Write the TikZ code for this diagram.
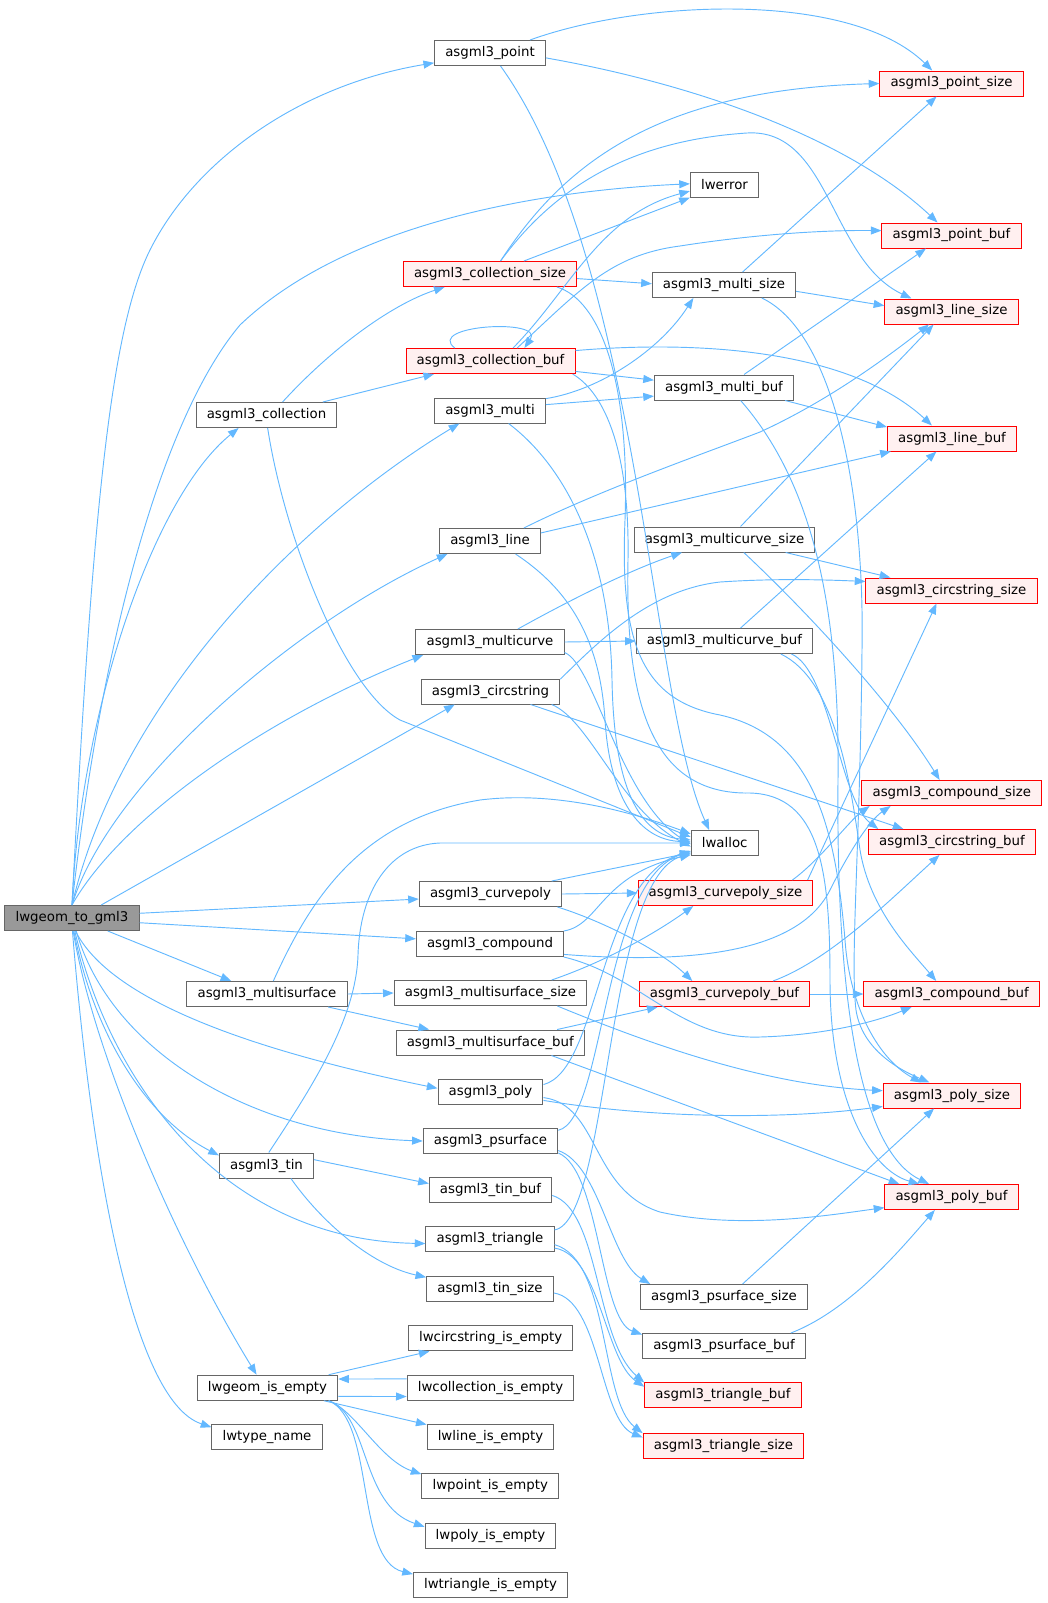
\documentclass[tikz,border=0pt]{standalone}
\usepackage{fontspec}
\setmainfont{DejaVu Sans}
\usetikzlibrary{arrows.meta,calc}

\definecolor{edgeblue}{HTML}{63B8FF}
\definecolor{boxgray}{HTML}{666666}
\definecolor{truncred}{HTML}{FF0000}
\definecolor{truncfill}{HTML}{FFF0F0}
\definecolor{rootfill}{HTML}{999999}

\begin{document}
\begin{tikzpicture}[x=0.75pt,y=-0.75pt,
  fn/.style={draw=boxgray, fill=white, line width=0.75pt, minimum height=18.75pt,
    inner xsep=8pt, inner ysep=0pt, font=\fontsize{10}{12}\selectfont},
  trunc/.style={fn, draw=truncred, fill=truncfill},
  rootfn/.style={fn, fill=rootfill},
  calls/.style={draw=edgeblue, line width=0.7pt, -{Triangle[length=8pt,width=6pt]}}]
\useasboundingbox (0,0) rectangle (1047,1603);

\node[rootfn] (root) at (72,918) {lwgeom\_to\_gml3};
\node[fn] (pt) at (490,53) {asgml3\_point};
\node[trunc] (ptsz) at (951.5,83.5) {asgml3\_point\_size};
\node[fn] (err) at (724.5,185) {lwerror};
\node[trunc] (ptbuf) at (951.5,235.5) {asgml3\_point\_buf};
\node[trunc] (colsz) at (490,274) {asgml3\_collection\_size};
\node[fn] (multisz) at (724,285) {asgml3\_multi\_size};
\node[trunc] (linesz) at (951.5,311.5) {asgml3\_line\_size};
\node[trunc] (colbuf) at (490.5,361) {asgml3\_collection\_buf};
\node[fn] (multibuf) at (724,387.5) {asgml3\_multi\_buf};
\node[fn] (col) at (266.5,415) {asgml3\_collection};
\node[fn] (multi) at (490,410.5) {asgml3\_multi};
\node[trunc] (linebuf) at (952,438.5) {asgml3\_line\_buf};
\node[fn] (line) at (490,541) {asgml3\_line};
\node[fn] (mcsz) at (724.5,539.5) {asgml3\_multicurve\_size};
\node[trunc] (cssz) at (951.5,590.5) {asgml3\_circstring\_size};
\node[fn] (mc) at (490,642) {asgml3\_multicurve};
\node[fn] (mcbuf) at (724.5,641) {asgml3\_multicurve\_buf};
\node[fn] (cs) at (490.5,691.5) {asgml3\_circstring};
\node[trunc] (cmpsz) at (951.8,793) {asgml3\_compound\_size};
\node[fn] (alloc) at (724.7,843) {lwalloc};
\node[trunc] (csbuf) at (952,842) {asgml3\_circstring\_buf};
\node[fn] (cp) at (490.5,894) {asgml3\_curvepoly};
\node[trunc] (cpsz) at (725.5,893) {asgml3\_curvepoly\_size};
\node[fn] (cmp) at (490,944) {asgml3\_compound};
\node[fn] (ms) at (267,994) {asgml3\_multisurface};
\node[fn] (mssz) at (490.5,993) {asgml3\_multisurface\_size};
\node[trunc] (cpbuf) at (724.5,994) {asgml3\_curvepoly\_buf};
\node[trunc] (cmpbuf) at (951.7,994) {asgml3\_compound\_buf};
\node[fn] (msbuf) at (490.3,1042.5) {asgml3\_multisurface\_buf};
\node[fn] (poly) at (490.5,1092) {asgml3\_poly};
\node[trunc] (polysz) at (952,1095.5) {asgml3\_poly\_size};
\node[fn] (psurf) at (490.5,1141) {asgml3\_psurface};
\node[fn] (tin) at (266.5,1165.5) {asgml3\_tin};
\node[fn] (tinbuf) at (490.5,1190) {asgml3\_tin\_buf};
\node[trunc] (polybuf) at (951.5,1197) {asgml3\_poly\_buf};
\node[fn] (tri) at (490,1239) {asgml3\_triangle};
\node[fn] (tinsz) at (490,1288.5) {asgml3\_tin\_size};
\node[fn] (pssz) at (724,1297) {asgml3\_psurface\_size};
\node[fn] (ecs) at (490.7,1338.3) {lwcircstring\_is\_empty};
\node[fn] (psbuf) at (724,1346) {asgml3\_psurface\_buf};
\node[fn] (empty) at (267.5,1387.7) {lwgeom\_is\_empty};
\node[fn] (ecol) at (490.5,1387.7) {lwcollection\_is\_empty};
\node[trunc] (tribuf) at (723,1395) {asgml3\_triangle\_buf};
\node[fn] (tname) at (267,1437) {lwtype\_name};
\node[fn] (eline) at (490.5,1437) {lwline\_is\_empty};
\node[trunc] (trisz) at (723.5,1446) {asgml3\_triangle\_size};
\node[fn] (epoint) at (490.3,1486.3) {lwpoint\_is\_empty};
\node[fn] (epoly) at (490.5,1536) {lwpoly\_is\_empty};
\node[fn] (etri) at (490.5,1585) {lwtriangle\_is\_empty};

% calls out of lwgeom_to_gml3
\draw[calls] (root.north) .. controls (92,520) and (110,330) .. (150,250) .. controls (195,160) and (300,85) .. (pt.190);
\draw[calls] (root.north) .. controls (100,650) and (160,420) .. (240,325) .. controls (350,220) and (550,190) .. (err.178);
\draw[calls] (root.north) .. controls (80,720) and (150,500) .. (col.205);
\draw[calls] (root.north) .. controls (120,700) and (300,520) .. (multi.203);
\draw[calls] (root.north) .. controls (110,780) and (300,620) .. (line.197);
\draw[calls] (root.north) .. controls (120,820) and (260,720) .. (mc.191);
\draw[calls] (root.24) -- (cs.200);
\draw[calls] (root.4) -- (cp.184);
\draw[calls] (root.-4) -- (cmp.176);
\draw[calls] (root.-20) -- (ms.160);
\draw[calls] (root.-75) .. controls (110,1000) and (250,1050) .. (poly.176);
\draw[calls] (root.-72) .. controls (110,1050) and (250,1135) .. (psurf.west);
\draw[calls] (root.-78) .. controls (110,1080) and (220,1240) .. (tri.184);
\draw[calls] (root.-82) .. controls (95,1040) and (150,1120) .. (tin.168);
\draw[calls] (root.-85) .. controls (95,1060) and (180,1250) .. (empty.130);
\draw[calls] (root.-88) .. controls (90,1150) and (130,1400) .. (tname.170);

% point, collection, multi
\draw[calls] (pt.18) .. controls (640,0) and (850,-10) .. (ptsz.146);
\draw[calls] (pt.-5) .. controls (700,85) and (850,140) .. (ptbuf.137);
\draw[calls] (pt.-51) .. controls (640,260) and (650,700) .. (alloc.140);
\draw[calls] (col.39) .. controls (330,350) and (390,305) .. (colsz.196);
\draw[calls] (col.13) -- (colbuf.193);
\draw[calls] (col.-85) .. controls (285,540) and (345,690) .. (400,720) -- (alloc.170);
\draw[calls] (colsz.51) .. controls (560,170) and (650,90) .. (ptsz.west);
\draw[calls] (colsz.51) .. controls (560,180) and (640,140) .. (747,133) .. controls (830,128) and (830,260) .. (linesz.162);
\draw[calls] (colsz.21) -- (err.200);
\draw[calls] (colsz.-3) -- (multisz.179);
\draw[calls] (colsz.-11) .. controls (600,300) and (630,380) .. (625,520) .. controls (620,640) and (640,700) .. (720,715) .. controls (810,735) and (835,820) .. (845,940) .. controls (850,1010) and (880,1060) .. (polysz.157);
\draw[calls] (multisz.35) -- (ptsz.221);
\draw[calls] (multisz.-5) -- (linesz.175);
\draw[calls] (multisz.-19) .. controls (830,330) and (865,480) .. (862,650) .. controls (860,850) and (850,960) .. (856,1010) .. controls (862,1050) and (900,1070) .. (polysz.150);
\draw[calls] (colbuf.160) .. controls (425,325) and (545,318) .. (colbuf.21);
\draw[calls] (colbuf.30) .. controls (570,290) and (600,215) .. (err.190);
\draw[calls] (colbuf.26) .. controls (580,290) and (610,255) .. (680,246) .. controls (750,235) and (820,230) .. (ptbuf.176);
\draw[calls] (colbuf.7) .. controls (700,340) and (850,350) .. (linebuf.147);
\draw[calls] (colbuf.-7) -- (multibuf.174);
\draw[calls] (colbuf.-9) .. controls (600,390) and (630,440) .. (628,560) .. controls (625,700) and (650,795) .. (750,793) .. controls (820,795) and (830,870) .. (830,980) .. controls (830,1100) and (870,1170) .. (polybuf.158);
\draw[calls] (multibuf.33) -- (ptbuf.207);
\draw[calls] (multibuf.-12) -- (linebuf.170);
\draw[calls] (multibuf.-38) .. controls (810,480) and (840,600) .. (838,780) .. controls (836,1000) and (860,1150) .. (polybuf.150);
\draw[calls] (multi.12) .. controls (600,390) and (660,350) .. (multisz.203);
\draw[calls] (multi.6) -- (multibuf.187);
\draw[calls] (multi.-35) .. controls (570,470) and (610,560) .. (612,680) .. controls (614,790) and (640,835) .. (alloc.175);

% line, curves
\draw[calls] (line.21) .. controls (600,490) and (700,455) .. (760,432) .. controls (830,400) and (890,355) .. (linesz.210);
\draw[calls] (line.9) -- (linebuf.192);
\draw[calls] (line.-27) .. controls (570,590) and (600,640) .. (605,720) .. controls (610,800) and (640,840) .. (alloc.178);
\draw[calls] (mcsz.39) -- (linesz.216);
\draw[calls] (mcsz.-12) -- (cssz.168);
\draw[calls] (mcsz.-34) .. controls (800,605) and (890,700) .. (cmpsz.133);
\draw[calls] (mc.25) .. controls (570,600) and (630,570) .. (mcsz.197);
\draw[calls] (mc.east) -- (mcbuf.west);
\draw[calls] (mc.-8) .. controls (595,665) and (620,800) .. (alloc.182);
\draw[calls] (mcbuf.39) -- (linebuf.220);
\draw[calls] (mcbuf.-11) .. controls (830,670) and (840,800) .. (csbuf.170);
\draw[calls] (mcbuf.-13) .. controls (835,680) and (850,780) .. (860,850) .. controls (870,910) and (910,950) .. (cmpbuf.140);
\draw[calls] (cs.10) .. controls (600,640) and (650,590) .. (720,582) .. controls (780,578) and (830,580) .. (cssz.174);
\draw[calls] (cs.-18) -- (csbuf.165);
\draw[calls] (cs.-12) .. controls (590,720) and (620,810) .. (alloc.186);
\draw[calls] (cp.12) -- (alloc.196);
\draw[calls] (cp.east) -- (cpsz.west);
\draw[calls] (cp.-11) .. controls (600,920) and (660,950) .. (cpbuf.158);
\draw[calls] (cpsz.11) .. controls (820,860) and (850,820) .. (cmpsz.189);
\draw[calls] (cpsz.9) -- (cssz.221);
\draw[calls] (cpbuf.east) -- (cmpbuf.west);
\draw[calls] (cpbuf.15) .. controls (830,960) and (890,900) .. (csbuf.226);
\draw[calls] (cmp.10) .. controls (600,925) and (600,875) .. (alloc.199);
\draw[calls] (cmp.-8) .. controls (700,965) and (800,950) .. (830,890) .. controls (850,850) and (870,820) .. (cmpsz.192);
\draw[calls] (cmp.-10) .. controls (640,975) and (680,1040) .. (760,1037) .. controls (830,1035) and (880,1020) .. (cmpbuf.198);

% surfaces
\draw[calls] (ms.64) .. controls (310,900) and (360,820) .. (480,800) .. controls (560,790) and (640,815) .. (alloc.165);
\draw[calls] (ms.east) -- (mssz.west);
\draw[calls] (ms.-12) -- (msbuf.168);
\draw[calls] (mssz.12) .. controls (610,960) and (660,930) .. (cpsz.202);
\draw[calls] (mssz.-11) .. controls (640,1040) and (760,1085) .. (polysz.176);
\draw[calls] (msbuf.11) -- (cpbuf.191);
\draw[calls] (msbuf.-12) -- (polybuf.166);
\draw[calls] (poly.8) .. controls (600,1070) and (598,880) .. (alloc.193);
\draw[calls] (poly.-9) .. controls (650,1118) and (780,1120) .. (polysz.189);
\draw[calls] (poly.-6) .. controls (600,1105) and (590,1190) .. (660,1212) .. controls (740,1230) and (830,1215) .. (polybuf.189);
\draw[calls] (psurf.9) .. controls (605,1120) and (602,880) .. (alloc.194);
\draw[calls] (psurf.-8) .. controls (600,1165) and (610,1260) .. (pssz.170);
\draw[calls] (psurf.-10) .. controls (600,1170) and (600,1320) .. (psbuf.172);
\draw[calls] (pssz.35) -- (polysz.216);
\draw[calls] (psbuf.11) .. controls (850,1310) and (900,1250) .. (polybuf.218);

% tin, triangle
\draw[calls] (tin.80) .. controls (310,1090) and (356,1020) .. (358,955) .. controls (360,890) and (390,845) .. (440,843) -- (alloc.180);
\draw[calls] (tin.7) -- (tinbuf.174);
\draw[calls] (tin.-28) .. controls (320,1220) and (370,1265) .. (tinsz.170);
\draw[calls] (tinbuf.-5) .. controls (600,1210) and (595,1340) .. (tribuf.171);
\draw[calls] (tri.8) .. controls (610,1220) and (605,880) .. (alloc.197);
\draw[calls] (tri.-5) .. controls (610,1260) and (600,1400) .. (trisz.171);
\draw[calls] (tri.-8) .. controls (600,1255) and (605,1360) .. (tribuf.174);
\draw[calls] (tinsz.-4) .. controls (600,1300) and (600,1420) .. (trisz.174);

% emptiness checks
\draw[calls] (empty.12) -- (ecs.192);
\draw[calls] (ecol.174) -- (empty.7);
\draw[calls] (empty.-7) -- (ecol.186);
\draw[calls] (empty.-13) -- (eline.169);
\draw[calls] (empty.-12) .. controls (355,1410) and (380,1460) .. (epoint.170);
\draw[calls] (empty.-12) .. controls (370,1415) and (360,1505) .. (epoly.172);
\draw[calls] (empty.-12) .. controls (375,1420) and (355,1560) .. (etri.172);
\end{tikzpicture}
\end{document}
